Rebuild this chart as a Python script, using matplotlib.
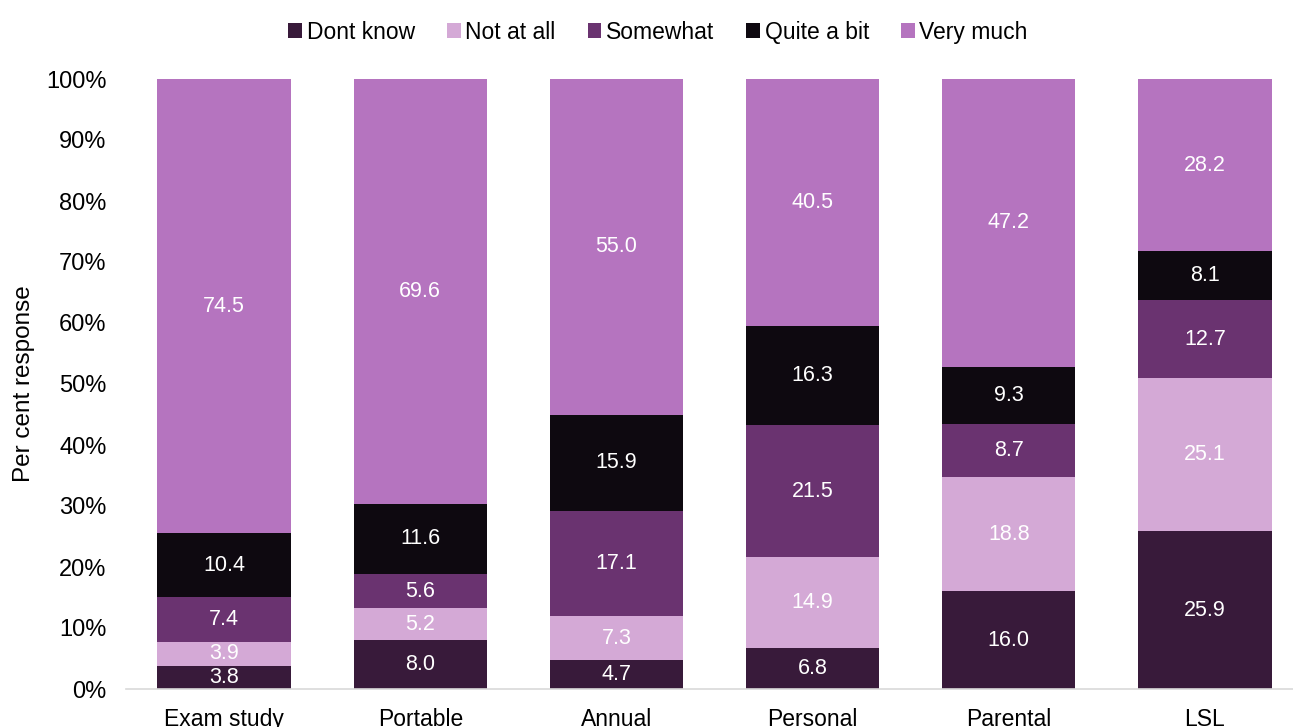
import numpy as np
import matplotlib.pyplot as plt

plt.rcParams['font.family'] = ['Liberation Sans', 'DejaVu Sans']

categories = ['Exam study', 'Portable', 'Annual', 'Personal', 'Parental', 'LSL']
series = ['Dont know', 'Not at all', 'Somewhat', 'Quite a bit', 'Very much']
dont_know = [3.8, 8.0, 4.7, 6.8, 16.0, 25.9]
not_at_all = [3.9, 5.2, 7.3, 14.9, 18.8, 25.1]
somewhat = [7.4, 5.6, 17.1, 21.5, 8.7, 12.7]
quite_a_bit = [10.4, 11.6, 15.9, 16.3, 9.3, 8.1]
very_much = [74.5, 69.6, 55.0, 40.5, 47.2, 28.2]
colors = ['#381a3a', '#d4a9d6', '#6a3370', '#0e0910', '#b574bf']

fig = plt.figure(figsize=(12.93, 7.27), dpi=100)
ax = fig.add_axes([126 / 1293, 38 / 727, (1293 - 126) / 1293, 610 / 727])

x = np.arange(len(categories))
bottom = np.zeros(len(categories))
for name, vals, col in zip(series, [dont_know, not_at_all, somewhat, quite_a_bit, very_much], colors):
    vals = np.array(vals)
    ax.bar(x, vals, 0.68, bottom=bottom, color=col, label=name)
    for xi, b, v in zip(x, bottom, vals):
        ax.text(xi, b + v / 2, f'{v:.1f}', ha='center', va='center',
                color='white', fontsize=15.5)
    bottom += vals

ax.set_xlim(-0.5, 5.5 - 10 / 196)
ax.set_ylim(0, 100)
ax.set_yticks(np.arange(0, 101, 10))
ax.set_yticklabels([f'{t}%' for t in range(0, 101, 10)], fontsize=17)
ax.set_xticks(x)
ax.set_xticklabels(categories, fontsize=16.5)
ax.tick_params(axis='y', length=0, pad=14)
ax.tick_params(axis='x', length=0, pad=14)
for s in ['top', 'right', 'left']:
    ax.spines[s].set_visible(False)
ax.spines['bottom'].set_color('#d9d9d9')
ax.spines['bottom'].set_linewidth(1.2)
ax.set_ylabel('Per cent response', fontsize=17.5, labelpad=8)

fig.legend(loc='upper center', bbox_to_anchor=(658 / 1293, 1.0), ncol=5, frameon=False,
           fontsize=16.5, handlelength=0.6, handleheight=0.6, handletextpad=0.2,
           columnspacing=1.4)

fig.savefig('out.png', dpi=100)
